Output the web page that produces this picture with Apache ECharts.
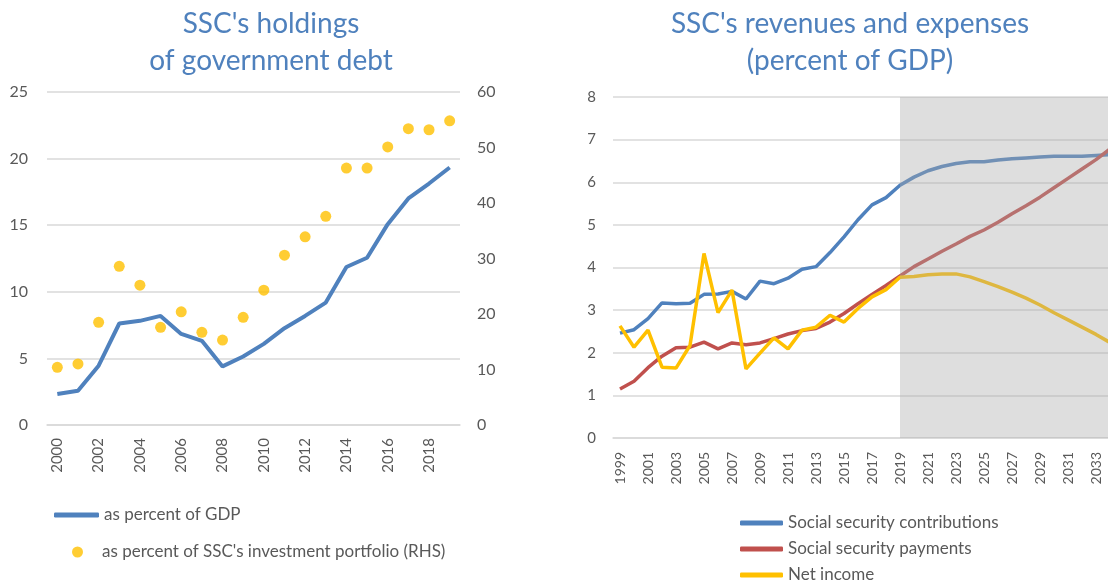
<!DOCTYPE html>
<html>
<head>
<meta charset="utf-8">
<script src="https://cdn.jsdelivr.net/npm/echarts@6/dist/echarts.min.js"></script>
<style>
html,body{margin:0;padding:0;background:#fff}
#main{width:1108px;height:580px}
</style>
</head>
<body>
<div id="main"></div>
<script>
// left chart
let years1=['2000','2001','2002','2003','2004','2005','2006','2007','2008','2009','2010','2011','2012','2013','2014','2015','2016','2017','2018','2019']
let pctGdp=[2.32,2.57,4.45,7.62,7.82,8.19,6.84,6.32,4.40,5.14,6.09,7.27,8.19,9.19,11.86,12.56,15.08,17.01,18.13,19.33]
let pctPortfolio=[10.4,11.0,18.5,28.6,25.2,17.6,20.4,16.7,15.3,19.4,24.3,30.6,33.9,37.6,46.3,46.3,50.1,53.4,53.2,54.8]

// right chart
let years2=[]
for(let y=1999;y<=2034;y++){years2.push(String(y))}
let contributions=[2.46,2.54,2.80,3.17,3.15,3.16,3.37,3.38,3.44,3.26,3.68,3.62,3.75,3.96,4.02,4.35,4.72,5.12,5.47,5.64,5.93,6.12,6.27,6.37,6.44,6.48,6.48,6.52,6.55,6.57,6.59,6.61,6.61,6.61,6.63,6.65]
let payments=[1.15,1.33,1.65,1.92,2.12,2.13,2.25,2.09,2.23,2.19,2.23,2.33,2.44,2.52,2.57,2.72,2.92,3.15,3.37,3.58,3.80,4.02,4.20,4.38,4.55,4.73,4.88,5.06,5.26,5.45,5.65,5.87,6.09,6.31,6.53,6.78]
let netIncome=[2.63,2.13,2.53,1.66,1.64,2.17,4.33,2.94,3.47,1.62,1.99,2.35,2.09,2.53,2.60,2.88,2.72,3.04,3.31,3.48,3.77,3.79,3.83,3.85,3.85,3.78,3.67,3.55,3.42,3.28,3.12,2.94,2.77,2.60,2.43,2.24]
let projStart='2019'

let font='Lato'
let grey='#595959'
let gridColor='#d9d9d9'

let myChart=echarts.init(document.getElementById('main'),null,{renderer:'canvas'})

// one legend box per entry so each can sit where the original has it
function legendBox(left,top,name,icon,w,h,size,pad){
    return {
        left:left,top:top,padding:0,orient:'horizontal',
        itemWidth:w,itemHeight:h,
        data:[{name:name,icon:icon}],
        selectedMode:false,
        textStyle:{color:grey,fontFamily:font,fontSize:size,lineHeight:20,padding:[0,0,0,pad||0]}
    }
}

let option={
    animation:false,
    title:[{
        text:"SSC's holdings\nof government debt",
        left:271,top:5,padding:0,textAlign:'center',
        textStyle:{color:'#4f81bd',fontFamily:font,fontSize:28,fontWeight:'normal',lineHeight:37}
    },{
        text:"SSC's revenues and expenses\n(percent of GDP)",
        left:850,top:5,padding:0,textAlign:'center',
        textStyle:{color:'#4f81bd',fontFamily:font,fontSize:28,fontWeight:'normal',lineHeight:37}
    }],
    legend:[
        legendBox(54,505,'as percent of GDP','roundRect',45,5,17),
        legendBox(72,542,"as percent of SSC's investment portfolio (RHS)",'circle',11,11,17,14),
        legendBox(740,513,'Social security contributions','roundRect',43,5,17),
        legendBox(740,539,'Social security payments','roundRect',43,5,17),
        legendBox(740,565,'Net income','roundRect',43,5,17)
    ],
    grid:[
        {left:47,top:92,width:413,height:333,outerBoundsMode:'none'},
        {left:613,top:97,width:504,height:341,outerBoundsMode:'none'}
    ],
    xAxis:[{
        type:'category',gridIndex:0,data:years1,boundaryGap:true,
        axisLine:{lineStyle:{color:gridColor,width:1.5}},
        axisTick:{show:false},
        axisLabel:{interval:1,rotate:90,color:grey,fontFamily:font,fontSize:15,margin:13}
    },{
        type:'category',gridIndex:1,data:years2,boundaryGap:true,
        axisLine:{lineStyle:{color:gridColor,width:1.5}},
        axisTick:{show:false},
        axisLabel:{interval:1,rotate:90,color:grey,fontFamily:font,fontSize:14,margin:14}
    }],
    yAxis:[{
        type:'value',gridIndex:0,min:0,max:25,interval:5,
        axisLine:{show:false},axisTick:{show:false},
        axisLabel:{color:grey,fontFamily:font,fontSize:16,margin:19},
        splitLine:{lineStyle:{color:gridColor,width:1.5}}
    },{
        type:'value',gridIndex:0,min:0,max:60,interval:10,position:'right',
        axisLine:{show:false},axisTick:{show:false},
        axisLabel:{color:grey,fontFamily:font,fontSize:16,margin:17},
        splitLine:{show:false}
    },{
        type:'value',gridIndex:1,min:0,max:8,interval:1,
        axisLine:{show:false},axisTick:{show:false},
        axisLabel:{color:grey,fontFamily:font,fontSize:15,margin:17},
        splitLine:{lineStyle:{color:gridColor,width:1.5}}
    }],
    series:[{
        name:'as percent of GDP',type:'line',xAxisIndex:0,yAxisIndex:0,
        data:pctGdp,symbol:'none',color:'#4f81bd',
        lineStyle:{width:4}
    },{
        name:"as percent of SSC's investment portfolio (RHS)",type:'scatter',xAxisIndex:0,yAxisIndex:1,
        data:pctPortfolio,symbolSize:11,color:'#ffc000'
    },{
        name:'Social security contributions',type:'line',xAxisIndex:1,yAxisIndex:2,
        data:contributions,symbol:'none',color:'#4f81bd',
        lineStyle:{width:3.5}
    },{
        name:'Social security payments',type:'line',xAxisIndex:1,yAxisIndex:2,
        data:payments,symbol:'none',color:'#c0504d',
        lineStyle:{width:3.5}
    },{
        name:'Net income',type:'line',xAxisIndex:1,yAxisIndex:2,
        data:netIncome,symbol:'none',color:'#ffc000',
        lineStyle:{width:3.5}
    },{
        // projection band, drawn over the lines like the original
        type:'line',xAxisIndex:1,yAxisIndex:2,data:[],z:10,silent:true,
        markArea:{
            silent:true,z:10,
            itemStyle:{color:'rgba(168,168,168,0.38)'},
            data:[[{xAxis:projStart},{xAxis:years2[years2.length-1]}]]
        }
    }]
}

myChart.setOption(option)
</script>
</body>
</html>
